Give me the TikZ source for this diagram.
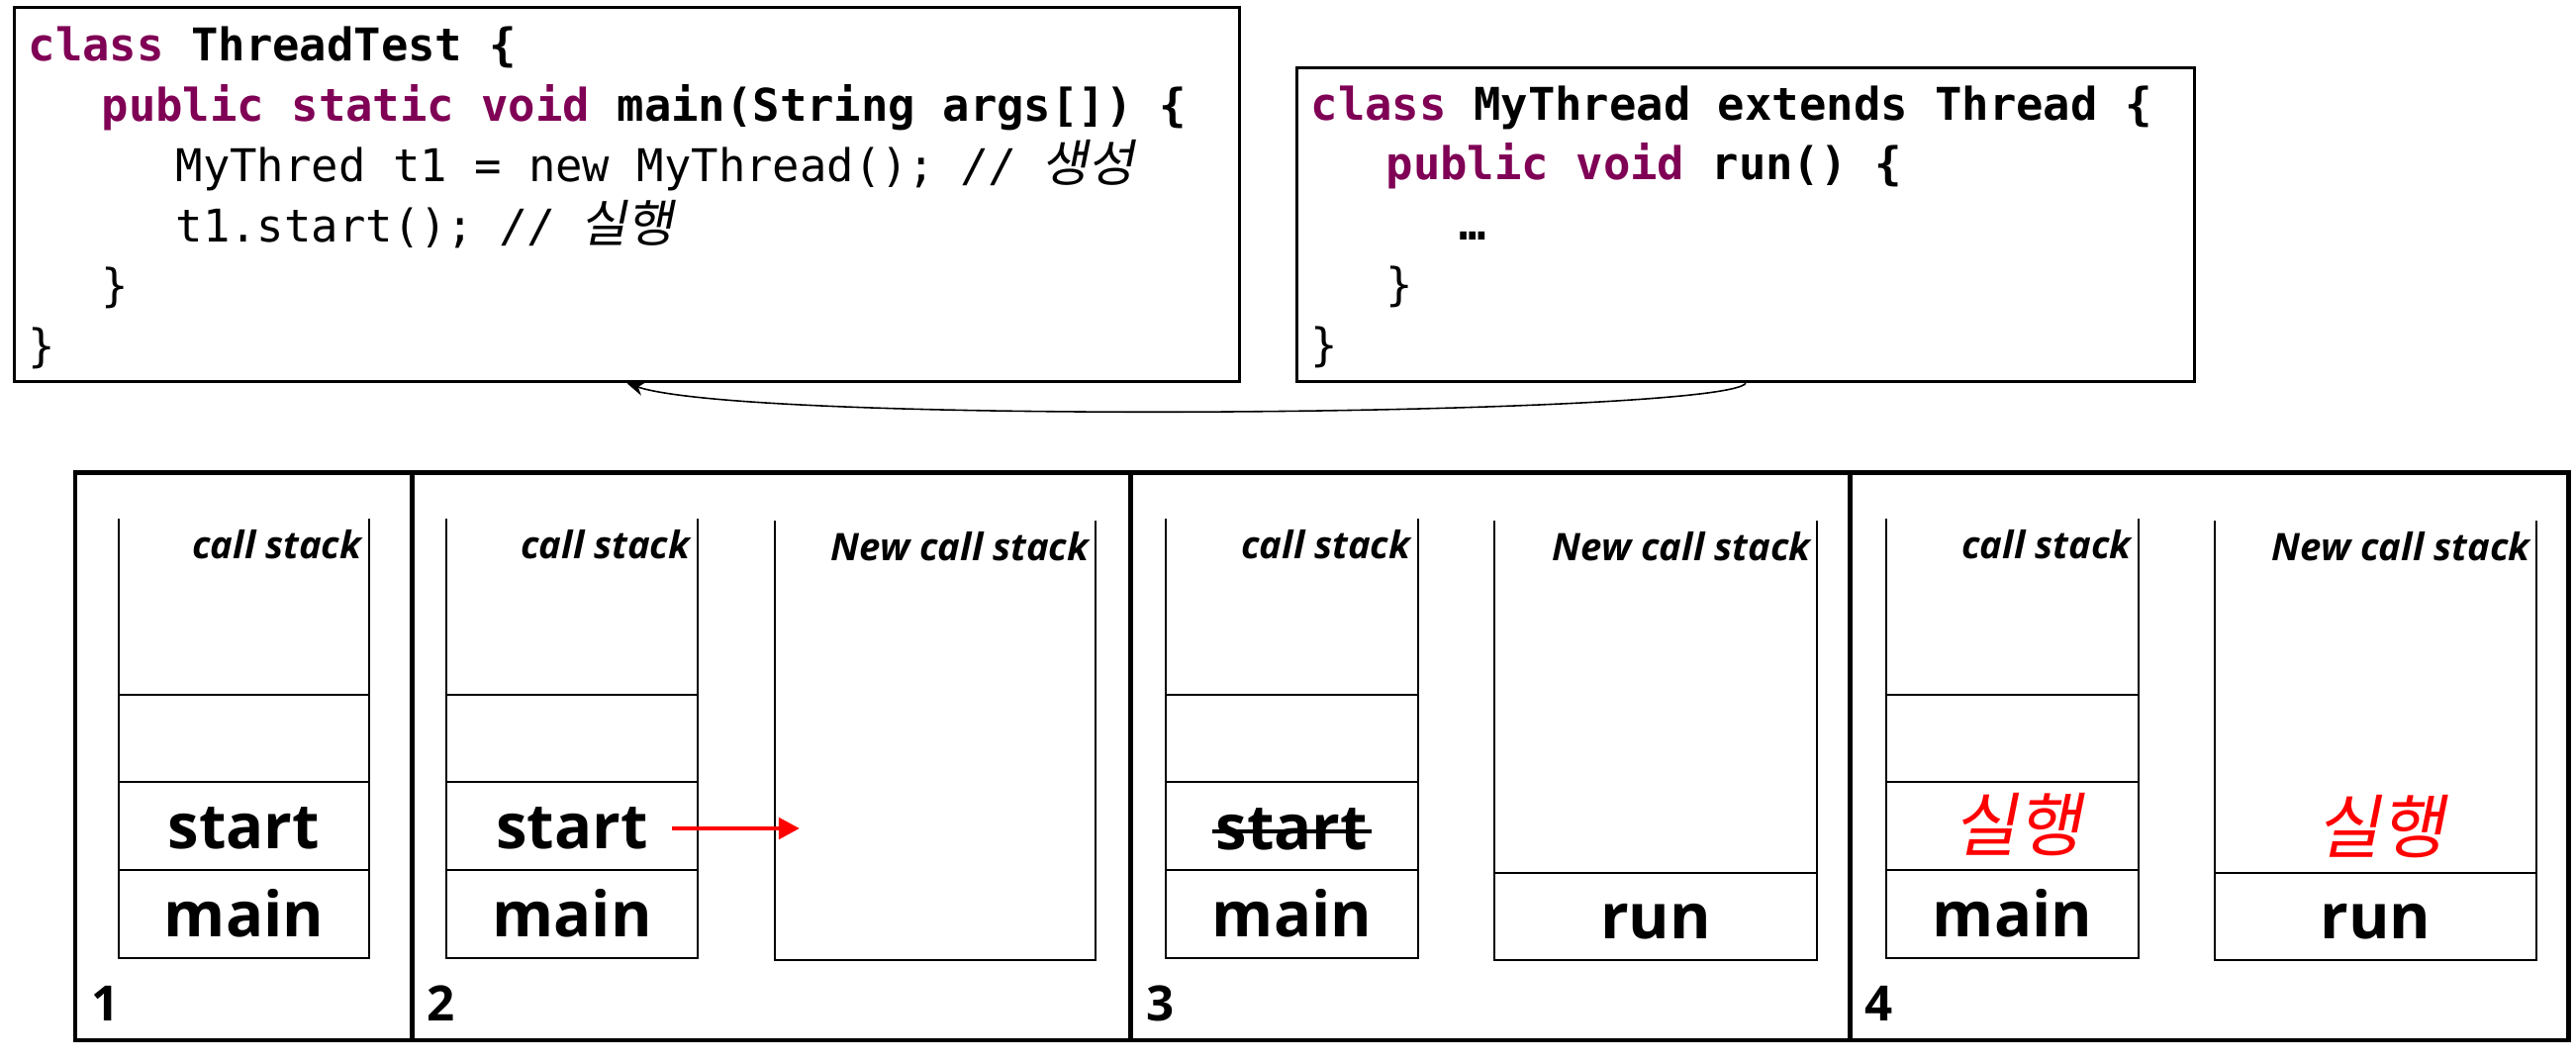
\documentclass[tikz,border=0pt]{standalone}
\usepackage{fontspec}
\setmonofont{DejaVu Sans Mono}
\newfontfamily\labfont{Open Sans}
\newfontfamily\krfont{Noto Sans CJK KR}[FakeSlant=0.2]
\usetikzlibrary{calc,arrows.meta}
\definecolor{kw}{HTML}{7F0055}
\definecolor{bred}{HTML}{FF0000}
\newcommand\krcmt[1]{{\itshape //\hspace{0.55em}\krfont\fontsize{14.5}{15}\selectfont #1}}
\begin{document}
\begin{tikzpicture}[x=0.01cm,y=-0.01cm,
  code/.style={anchor=base west, inner sep=0, font=\ttfamily\fontsize{12.95}{15}\selectfont},
  codebox/.style={draw, line width=0.85pt, inner sep=0},
  frame/.style={line width=1.42pt},
  stk/.style={line width=0.75pt},
  cslab/.style={anchor=base east, inner sep=0, font=\labfont\bfseries\itshape\fontsize{10.9}{12}\selectfont},
  cell/.style={anchor=base, inner sep=0, font=\labfont\bfseries\fontsize{18}{20}\selectfont},
  num/.style={anchor=base west, inner sep=0, font=\labfont\bfseries\fontsize{14}{16}\selectfont},
  krlab/.style={anchor=base, inner sep=0, text=bred, font=\krfont\fontsize{20}{22}\selectfont},
]
\useasboundingbox (0,0) rectangle (2603,1074);

% code boxes
\node[codebox, minimum width=12.37cm, minimum height=3.784cm] (lbox) at (633.5,196.5) {};
\node[codebox, minimum width=9.06cm, minimum height=3.174cm] (rbox) at (1764,227) {};

\node[code] (l1) at (28,61.7) {\textbf{\textcolor{kw}{class} ThreadTest \{}};
\node[code] (l2) at (102,122.5) {\textbf{\textcolor{kw}{public static void} main(String args[]) \{}};
\node[code] (l3) at (177,183.3) {MyThred t1 = new MyThread(); \krcmt{생성}};
\node[code] (l4) at (177,244.1) {t1.start(); \krcmt{실행}};
\node[code] (l5) at (102,304.9) {\}};
\node[code] (l6) at (28,365.7) {\}};

\node[code] (r1) at (1324,121.7) {\textbf{\textcolor{kw}{class} MyThread extends Thread \{}};
\node[code] (r2) at (1400,181.7) {\textbf{\textcolor{kw}{public void} run() \{}};
\node[code] (r3) at (1474,243) {\textbf{…}};
\node[code] (r4) at (1400,304) {\}};
\node[code] (r5) at (1324,365) {\}};

\draw[line width=0.45pt, -{Stealth[length=5pt,width=4pt]}] (rbox.south) .. controls (1740,420) and (760,430) .. (lbox.south);

% frame
\draw[frame] (76,478) rectangle (2595,1051);
\draw[frame] (416,478) -- (416,1051);
\draw[frame] (1142,478) -- (1142,1051);
\draw[frame] (1869,478) -- (1869,1051);

% stacks
\foreach \L/\R in {120/373, 451/705, 1178/1433, 1906/2161} {
  \draw[stk] (\L,524) -- (\L,968) -- (\R,968) -- (\R,524);
  \draw[stk] (\L,702) -- (\R,702) (\L,790) -- (\R,790) (\L,879) -- (\R,879);
}
\draw[stk] (783,526) -- (783,970) -- (1107,970) -- (1107,526);
\foreach \L/\R in {1510/1836, 2238/2563} {
  \draw[stk] (\L,526) -- (\L,970) -- (\R,970) -- (\R,526);
  \draw[stk] (\L,882) -- (\R,882);
}

% panel 1
\node[cslab] (cs1) at (366,565) {call stack};
\node[cell] (start1) at (246.5,858) {start};
\node[cell] (main1) at (246.5,947) {main};
\node[num] (n1) at (92,1032) {1};

% panel 2
\node[cslab] (cs2) at (698,565) {call stack};
\node[cslab] (ncs2) at (1101,567) {New call stack};
\node[cell] (start2) at (578,858) {start};
\node[cell] (main2) at (578,947) {main};
\node[num] (n2) at (431,1032) {2};
\coordinate (a1) at (679,837);
\coordinate (a2) at (808,837);
\draw[line width=1.35pt, bred, -{Triangle[length=6pt,width=6pt]}] (a1) -- (a2);

% panel 3
\node[cslab] (cs3) at (1426,565) {call stack};
\node[cslab] (ncs3) at (1830,567) {New call stack};
\node[cell] (start3) at (1305.5,859) {start};
\draw[line width=1pt] ($(start3.base west)+(-3,-19)$) -- ($(start3.base east)+(3,-19)$);
\node[cell] (main3) at (1305.5,947) {main};
\node[cell] (run3) at (1673,949) {run};
\node[num] (n3) at (1158,1032) {3};

% panel 4
\node[cslab] (cs4) at (2154,565) {call stack};
\node[cslab] (ncs4) at (2557,567) {New call stack};
\node[krlab] (k4a) at (2038,860) {실행};
\node[cell] (main4) at (2033.5,947) {main};
\node[krlab] (k4b) at (2405,862) {실행};
\node[cell] (run4) at (2400.5,949) {run};
\node[num] (n4) at (1884,1032) {4};
\end{tikzpicture}
\end{document}
